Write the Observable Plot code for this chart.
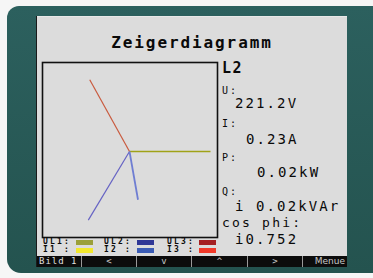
<!DOCTYPE html>
<html>
<head>
<meta charset="utf-8">
<script src="https://cdn.jsdelivr.net/npm/d3@7"></script>
<script src="https://cdn.jsdelivr.net/npm/@observablehq/plot@0.6"></script>
<style>
  html, body { margin: 0; padding: 0; }
  body { width: 373px; height: 278px; overflow: hidden; position: relative; background: #f6f6f6; font-family: "DejaVu Sans Mono", monospace; }
  #frame { position: absolute; left: 7px; top: 6px; width: 400px; height: 267px; border-radius: 12px 0 0 14px; background: linear-gradient(180deg, #2c605e 0%, #24534f 100%); }
  #screen { position: absolute; left: 37px; top: 16px; width: 310px; height: 251px; background: #dcdcdc; box-shadow: -1px 0 0 #1a1a1a, inset 0 1px 0 #e8e8e8; }
  .t { position: absolute; white-space: pre; color: #0a0a0a; }
  #chart { position: absolute; left: 42px; top: 62px; }
  .sw { position: absolute; width: 17px; height: 5px; }
  #bar { position: absolute; left: 37px; top: 256px; width: 310px; height: 11px; background: #0c0c0c; }
  .cell { position: absolute; top: 0; height: 11px; font: 9px/11px "DejaVu Sans Mono", monospace; color: #c8c8c8; border-right: 1px solid #9a9a9a; box-sizing: border-box; text-align: center; }
</style>
</head>
<body>
<div id="frame"></div>
<div id="screen"></div>
<div id="chart"></div>
<div id="texts"></div>
<div id="bar"></div>
<script>
// Phasor data (length in picture units, angle in degrees)
const phasors = ["UL1", "UL2", "UL3", "I2"];
const lengths = [81, 80, 82, 49];
const angles = [0, -121, 119, -80];
const phasorColors = ["#a0a218", "#6663c4", "#c95a3e", "#6f7ed2"];

// Readouts
const title = "Zeigerdiagramm";
const phase = "L2";
const labels = ["U:", "I:", "P:", "Q:"];
const values = ["221.2V", "0.23A", "0.02kW", "i 0.02kVAr"];
const cosLabel = "cos phi:";
const cosValue = "i0.752";

// Legend
const legendTop = ["UL1:", "UL2:", "UL3:"];
const legendBottom = ["I1 :", "I2 :", "I3 :"];
const legendTopColors = ["#9ba03a", "#2f3796", "#a52022"];
const legendBottomColors = ["#f2e82e", "#3b5cb5", "#f03a2a"];

// Soft keys
const keys = ["Bild 1", "<", "v", "^", ">", "Menue"];

const data = phasors.map((p, i) => ({ name: p, len: lengths[i], ang: angles[i] }));
const rad = d => d.ang * Math.PI / 180;

const chart = Plot.plot({
  width: 175,
  height: 175,
  margin: 0,
  style: { background: "transparent", overflow: "visible" },
  x: { domain: [-87, 88], axis: null },
  y: { domain: [-86, 89], axis: null },
  color: { domain: phasors, range: phasorColors },
  marks: [
    Plot.frame({ stroke: "#111", strokeWidth: 1.6 }),
    Plot.link(data, {
      x1: () => 0, y1: () => 0,
      x2: d => d.len * Math.cos(rad(d)),
      y2: d => d.len * Math.sin(rad(d)),
      stroke: "name",
      strokeWidth: d => d.name.startsWith("I") ? 1.8 : (d.name === "UL1" ? 1.5 : 1.2)
    })
  ]
});
document.getElementById("chart").appendChild(chart);

const T = document.getElementById("texts");
function addText(str, x, capTop, size, opts = {}) {
  const el = document.createElement("div");
  el.className = "t";
  el.textContent = str;
  el.style.fontSize = size + "px";
  el.style.lineHeight = size + "px";
  el.style.top = (capTop - 0.117 * size) + "px";
  el.style.letterSpacing = (opts.ls ?? 2) + "px";
  if (opts.bold) el.style.fontWeight = "bold";
  if (opts.center) { el.style.left = "37px"; el.style.width = "310px"; el.style.textAlign = "center"; }
  else el.style.left = x + "px";
  T.appendChild(el);
  return el;
}
addText(title, 0, 37, 16, { bold: true, ls: 1.9, center: true });
addText(phase, 222, 63, 15, { bold: true, ls: 1.5 });
const labelTops = [87, 120, 154, 188];
const valueTops = [98, 134, 167, 201];
const valueX = [235, 246, 257, 235];
labels.forEach((l, i) => addText(l, 222, labelTops[i], 10, { ls: 2 }));
values.forEach((v, i) => addText(v, valueX[i], valueTops[i], 14, { ls: 2.1 }));
addText(cosLabel, 222, 218, 13, { ls: 2.2 });
addText(cosValue, 235, 234, 14, { ls: 2.1 });

// legend
const legX = [43, 104, 167];
const swX = [76, 137, 199];
legendTop.forEach((s, i) => {
  addText(s, legX[i], 239, 8, { ls: 2.2, bold: true });
  addText(legendBottom[i], legX[i], 247, 8, { ls: 2.2, bold: true });
  const a = document.createElement("div");
  a.className = "sw"; a.style.left = swX[i] + "px"; a.style.top = "240px"; a.style.background = legendTopColors[i];
  T.appendChild(a);
  const b = document.createElement("div");
  b.className = "sw"; b.style.left = swX[i] + "px"; b.style.top = "248px"; b.style.background = legendBottomColors[i];
  T.appendChild(b);
});

// soft key bar
const cellEdges = [0, 45, 100, 155, 211, 266, 310];
const bar = document.getElementById("bar");
keys.forEach((k, i) => {
  const c = document.createElement("div");
  c.className = "cell";
  c.textContent = k;
  c.style.left = cellEdges[i] + "px";
  c.style.width = (cellEdges[i + 1] - cellEdges[i]) + "px";
  if (i === 0) { c.style.textAlign = "left"; c.style.paddingLeft = "2px"; c.style.letterSpacing = "1px"; c.style.color = "#e0e0e0"; }
  if (i === keys.length - 1) { c.style.textAlign = "right"; c.style.paddingRight = "2px"; c.style.borderRight = "none"; c.style.fontFamily = "DejaVu Sans"; }
  bar.appendChild(c);
});
</script>
</body>
</html>
